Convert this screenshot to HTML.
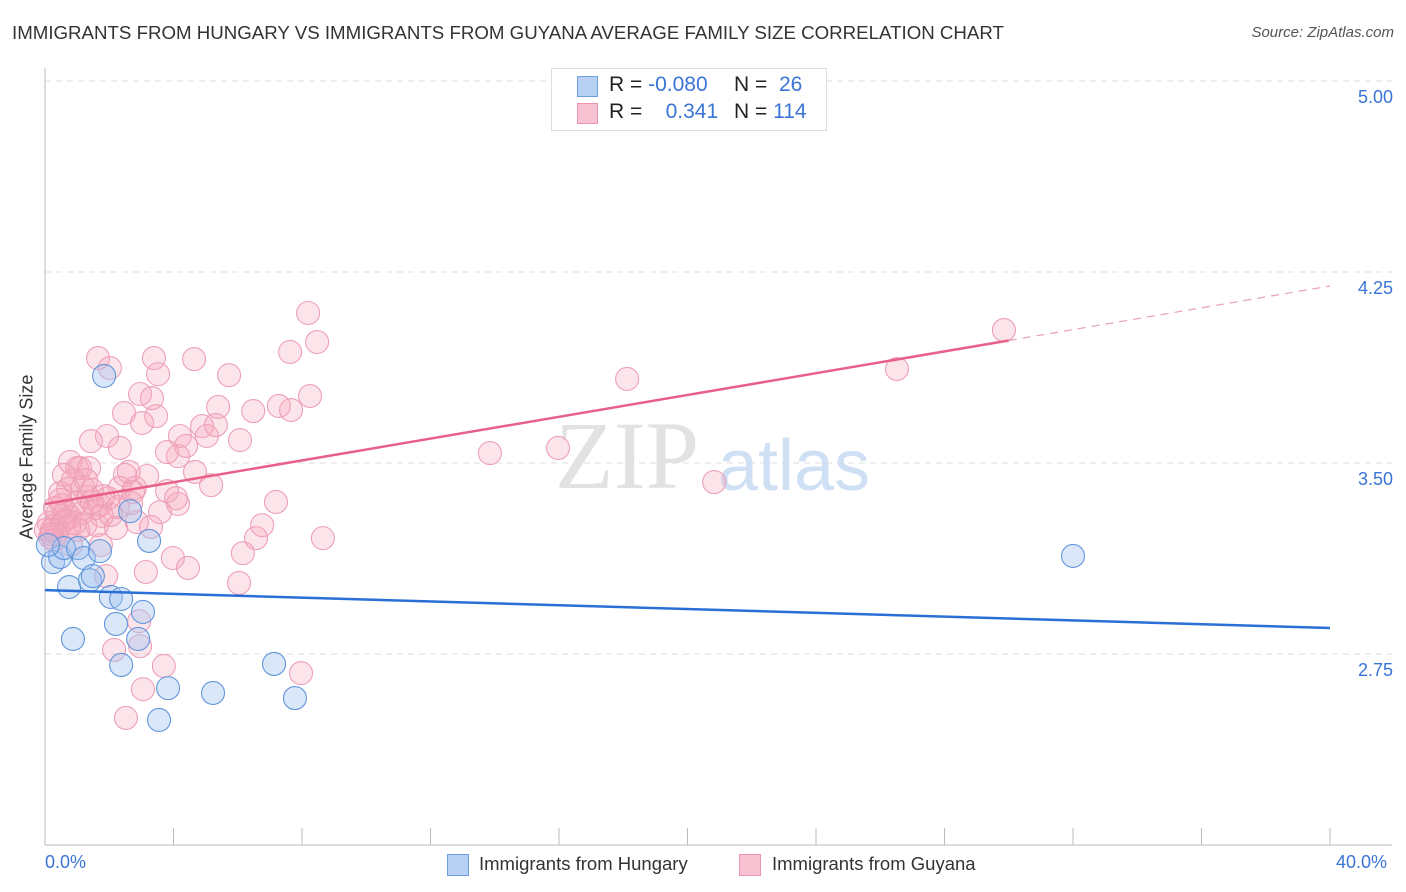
<!DOCTYPE html>
<html><head><meta charset="utf-8">
<style>
body{margin:0;background:#fff;font-family:"Liberation Sans",sans-serif;}
#wrap{position:relative;width:1406px;height:892px;overflow:hidden;}
.t{position:absolute;white-space:nowrap;}
</style></head>
<body>
<div id="wrap">
<div class="t" style="left:12px;top:22px;font-size:18.7px;color:#333;">IMMIGRANTS FROM HUNGARY VS IMMIGRANTS FROM GUYANA AVERAGE FAMILY SIZE CORRELATION CHART</div>
<div class="t" style="right:12px;top:24px;font-size:15px;color:#555;font-style:italic;">Source: ZipAtlas.com</div>
<svg id="svg" width="1406" height="892" style="position:absolute;left:0;top:0"></svg>
<div class="t" style="left:551px;top:68px;width:274px;height:61px;border:1px solid #ddd;background:#fff;"></div>
<div class="t" style="left:577px;top:76px;width:19px;height:19px;background:#b7d0f4;border:1px solid #6d9ee0;"></div>
<div class="t" style="left:577px;top:103px;width:19px;height:19px;background:#f7c3d3;border:1px solid #ec95b0;"></div>
<div class="t" style="left:609px;top:73px;font-size:21px;color:#222;">R = <span style="color:#3a74d6">-0.080</span></div>
<div class="t" style="left:734px;top:73px;font-size:21px;color:#222;">N = &nbsp;<span style="color:#3a74d6">26</span></div>
<div class="t" style="left:609px;top:100px;font-size:21px;color:#222;">R = &nbsp;&nbsp;&nbsp;<span style="color:#3a74d6">0.341</span></div>
<div class="t" style="left:734px;top:100px;font-size:21px;color:#222;">N = <span style="color:#3a74d6">114</span></div>
<div class="t" style="left:27px;top:457px;font-size:18px;color:#333;transform:translate(-50%,-50%) rotate(-90deg);">Average Family Size</div>
<div class="t" style="left:45px;top:852px;font-size:18px;color:#3a74d6;">0.0%</div>
<div class="t" style="left:1336px;top:852px;font-size:18px;color:#3a74d6;">40.0%</div>
<div class="t" style="left:447px;top:854px;width:20px;height:20px;background:#b7d0f4;border:1px solid #6d9ee0;"></div>
<div class="t" style="left:479px;top:853px;font-size:18.5px;color:#333;">Immigrants from Hungary</div>
<div class="t" style="left:739px;top:854px;width:20px;height:20px;background:#f7c3d3;border:1px solid #ec95b0;"></div>
<div class="t" style="left:772px;top:853px;font-size:18.5px;color:#333;">Immigrants from Guyana</div>
</div>
<script>
const yTicks=[5.00,4.25,3.50,2.75];
const yTickLabels=["5.00","4.25","3.50","2.75"];
const xTicks=[0,4,8,12,16,20,24,28,32,36,40];
const hungaryX=[1.84,.25,.47,.59,.75,1.03,1.21,1.40,1.49,1.71,.87,2.05,2.21,2.37,3.05,2.90,2.37,3.83,3.55,5.23,7.13,7.78,2.65,3.24,32.0,.09];
const hungaryY=[3.842,3.111,3.131,3.166,3.013,3.166,3.127,3.040,3.056,3.154,2.809,2.974,2.868,2.966,2.915,2.809,2.707,2.616,2.491,2.597,2.711,2.577,3.311,3.194,3.135,3.178];
const guyanaX=[8.19,8.47,7.63,1.65,2.02,3.39,4.64,3.52,5.73,18.12,26.52,29.85,2.96,3.33,8.25,5.39,6.48,7.28,7.66,2.46,3.46,3.02,4.89,5.32,1.93,4.20,6.07,2.33,5.04,3.80,4.39,4.14,13.85,15.97,1.43,.78,1.09,2.61,3.18,4.67,5.17,1.00,1.37,2.49,.72,1.18,1.46,2.33,2.74,3.80,4.08,1.96,.97,1.34,.53,1.56,1.71,2.27,.40,.78,1.15,1.77,.47,.12,.31,.62,.16,.37,.03,.93,1.62,2.86,3.30,3.58,4.14,7.19,6.76,6.57,6.16,8.65,1.74,.81,3.98,4.45,3.14,1.90,6.04,20.83,2.93,2.15,2.96,3.70,2.52,3.05,7.97,.31,.53,.65,1.25,2.05,1.03,.28,.47,.87,1.81,2.80,1.28,.59,2.21,2.68,.22,.75,1.46,.2];
const guyanaY=[4.089,3.975,3.936,3.912,3.873,3.912,3.908,3.849,3.845,3.830,3.869,4.022,3.771,3.755,3.763,3.720,3.704,3.724,3.708,3.696,3.684,3.657,3.645,3.649,3.606,3.606,3.590,3.559,3.606,3.543,3.567,3.527,3.539,3.559,3.586,3.504,3.480,3.465,3.449,3.465,3.413,3.480,3.480,3.453,3.398,3.406,3.394,3.402,3.386,3.390,3.362,3.362,3.343,3.366,3.335,3.323,3.335,3.327,3.304,3.288,3.304,3.292,3.355,3.264,3.256,3.276,3.209,3.221,3.237,3.264,3.256,3.268,3.249,3.307,3.339,3.347,3.256,3.205,3.146,3.205,3.178,3.178,3.127,3.088,3.072,3.056,3.029,3.425,2.879,2.766,2.781,2.703,2.499,2.612,2.675,3.323,3.264,3.307,3.256,3.296,3.237,3.197,3.382,3.433,3.370,3.402,3.433,3.453,3.245,3.343,3.237,3.249,3.347,3.22];
const hungaryLine=[3.001,2.852];
const guyanaLine=[3.339,4.195];
const guyanaSolidEnd=30.0;

const NS="http://www.w3.org/2000/svg";
const svg=document.getElementById('svg');
const X=v=>45+v/40*1285;
const Y=v=>81+(5-v)*254.67;
function mk(tag,attrs){const e=document.createElementNS(NS,tag);for(const k in attrs)e.setAttribute(k,attrs[k]);svg.appendChild(e);return e;}
yTicks.forEach((t,i)=>{
  const g=mk('line',{x1:45,x2:1392,y1:Y(t),y2:Y(t),stroke:'#ddd','stroke-dasharray':'6,5'});
  
  
  const tx=mk('text',{x:1393,y:Y(t)+22,'text-anchor':'end','font-size':18,fill:'#3a74d6','font-family':'Liberation Sans, sans-serif'});
  tx.textContent=yTickLabels[i];
  
  
});
const ax=mk('line',{x1:45,x2:45,y1:68,y2:845,stroke:'#bbb'});


const bx=mk('line',{x1:45,x2:1392,y1:845,y2:845,stroke:'#bbb'});


xTicks.forEach(t=>{
  const l=mk('line',{x1:X(t),x2:X(t),y1:828,y2:845,stroke:'#bbb'});
  
  
});
const w1=mk('text',{x:555,y:488,'font-size':96,fill:'#e2e2e2','font-family':'Liberation Serif, serif'});
w1.textContent='ZIP';


const w2=mk('text',{x:718,y:490,'font-size':72,fill:'#cfe0f5','font-family':'Liberation Sans, sans-serif'});
w2.textContent='atlas';


guyanaX.forEach((x,i)=>{
  const c=mk('circle',{cx:X(x),cy:Y(guyanaY[i]),r:11.5,fill:'rgba(244,165,190,0.3)',stroke:'#eda0b8','stroke-width':1.1});
  
  
});
hungaryX.forEach((x,i)=>{
  const c=mk('circle',{cx:X(x),cy:Y(hungaryY[i]),r:11.5,fill:'rgba(160,195,240,0.4)',stroke:'#6295da','stroke-width':1.1});
  
  
});
const gy=x=>guyanaLine[0]+(guyanaLine[1]-guyanaLine[0])*x/40;
const pl=mk('line',{x1:X(0),y1:Y(gy(0)),x2:X(guyanaSolidEnd),y2:Y(gy(guyanaSolidEnd)),stroke:'#e8608a','stroke-width':2.5});


const pd=mk('line',{x1:X(guyanaSolidEnd),y1:Y(gy(guyanaSolidEnd)),x2:X(40),y2:Y(gy(40)),stroke:'#e8a0b8','stroke-width':1.2,'stroke-dasharray':'8,6'});


const bl=mk('line',{x1:X(0),y1:Y(hungaryLine[0]),x2:X(40),y2:Y(hungaryLine[1]),stroke:'#2a6fd6','stroke-width':2.5});


</script>
</body></html>
